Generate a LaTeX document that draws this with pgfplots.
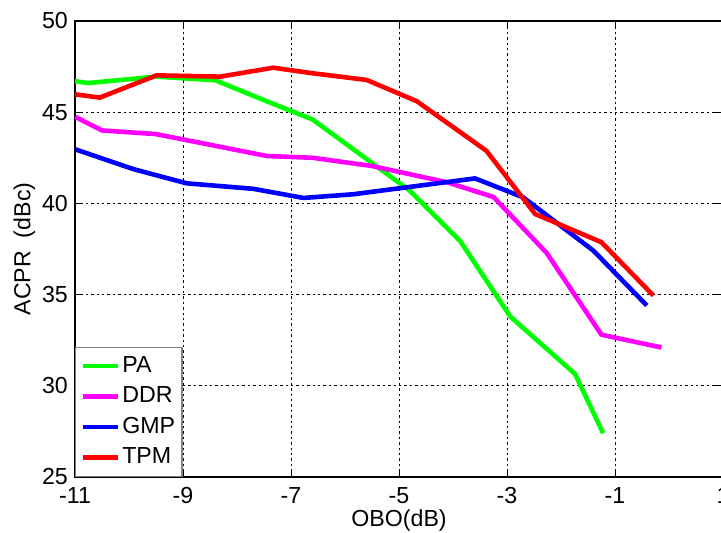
\documentclass[border=0pt]{standalone}
\usepackage{fontspec}
\setmainfont{Liberation Sans}
\usepackage{pgfplots}
\pgfplotsset{compat=1.18}
\definecolor{cgreen}{RGB}{0,255,0}
\definecolor{cmag}{RGB}{255,0,255}
\definecolor{cblue}{RGB}{0,0,255}
\definecolor{cred}{RGB}{255,0,0}
\begin{document}
\fontsize{11.6bp}{13.9bp}\selectfont
\begin{tikzpicture}
\begin{axis}[
  scale only axis, width=324bp, height=228bp,
  xmin=-11, xmax=1, ymin=25, ymax=50,
  xtick={-11,-9,-7,-5,-3,-1,1}, ytick={25,30,35,40,45,50},
  grid=major,
  major grid style={black, line width=0.4bp, dash pattern=on 1.2bp off 1.5bp},
  tick align=inside, major tick length=4bp,
  tick style={black, line width=0.4bp},
  axis line style={black, line width=0.7bp},
  /pgf/number format/assume math mode=true,
  tick label style={font=\fontsize{11.6bp}{13.9bp}\selectfont},
  label style={font=\fontsize{11.6bp}{13.9bp}\selectfont},
  xticklabel style={yshift=-1bp},
  yticklabel style={xshift=0.5bp},
  xlabel={OBO(dB)}, ylabel={ACPR\ \ (dBc)},
  xlabel style={yshift=5bp},
  ylabel style={yshift=-4.5bp},
  every axis plot/.append style={line width=2.3bp, line join=round},
  legend style={at={(0,0)}, anchor=south west, draw=gray, line width=0.7bp,
    fill=white, inner xsep=2.5bp, inner ysep=2.8bp, row sep=2.3bp,
    font=\fontsize{11.6bp}{13.9bp}\selectfont,
    nodes={inner sep=1bp, text height=8.6bp, text depth=2.4bp}},
  legend cell align=left,
  legend image code/.code={\draw[#1] (0bp,0bp) -- (17.5bp,0bp);},
]
\addplot[cgreen] coordinates {(-11,46.7) (-10.75,46.6) (-9.5,46.95) (-8.4,46.75) (-7.45,45.6) (-6.6,44.6) (-4.8,40.7) (-3.87,37.95) (-2.94,33.8) (-1.74,30.65) (-1.22,27.4)};
\addlegendentry{PA}
\addplot[cmag] coordinates {(-11,44.75) (-10.5,44.0) (-9.5,43.8) (-7.45,42.6) (-6.6,42.5) (-5.5,42.05) (-4.1,41.15) (-3.25,40.35) (-2.27,37.3) (-1.25,32.8) (-0.14,32.1)};
\addlegendentry{DDR}
\addplot[cblue] coordinates {(-11,42.97) (-9.92,41.88) (-8.93,41.1) (-7.7,40.8) (-6.77,40.3) (-5.85,40.5) (-3.59,41.37) (-2.7,40.33) (-1.4,37.41) (-0.41,34.4)};
\addlegendentry{GMP}
\addplot[cred] coordinates {(-11,45.98) (-10.54,45.8) (-9.49,47.02) (-8.31,46.95) (-7.33,47.44) (-6.59,47.13) (-5.6,46.77) (-4.67,45.6) (-3.38,42.88) (-2.48,39.42) (-1.25,37.87) (-0.29,34.95)};
\addlegendentry{TPM}
\end{axis}
\pgfresetboundingbox
\useasboundingbox ([shift={(-37.5bp,-28bp)}]current axis.south west) rectangle ([shift={(323bp,10.5bp)}]current axis.north west);
\end{tikzpicture}
\end{document}
